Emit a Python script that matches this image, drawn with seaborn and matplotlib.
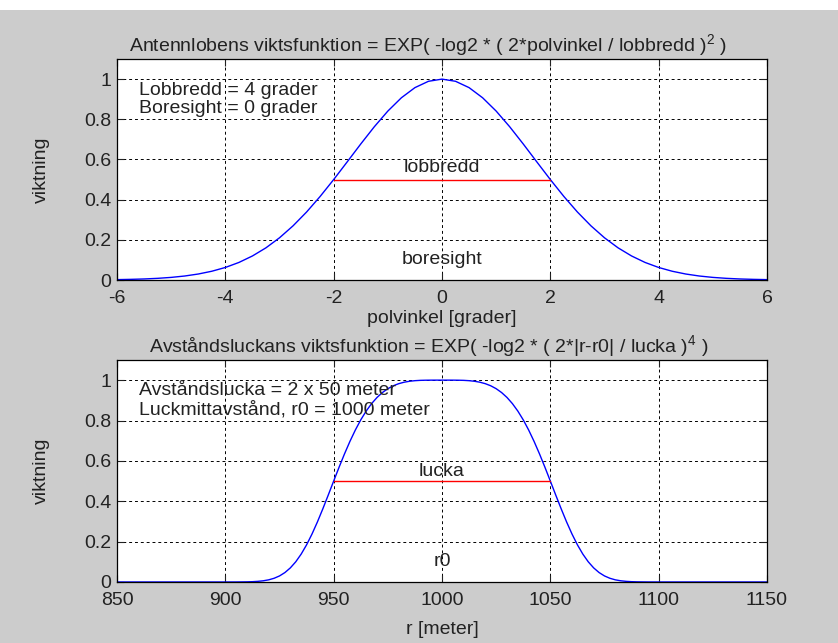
import numpy as np
import pandas as pd
import matplotlib
matplotlib.use("Agg")
import matplotlib.pyplot as plt
import seaborn as sns
from matplotlib.patches import Rectangle

# antenna lobe weight
polvinkel = [-6, -5.75, -5.5, -5.25, -5, -4.75, -4.5, -4.25, -4, -3.75, -3.5, -3.25,
             -3, -2.75, -2.5, -2.25, -2, -1.75, -1.5, -1.25, -1, -0.75, -0.5, -0.25,
             0, 0.25, 0.5, 0.75, 1, 1.25, 1.5, 1.75, 2, 2.25, 2.5, 2.75, 3, 3.25,
             3.5, 3.75, 4, 4.25, 4.5, 4.75, 5, 5.25, 5.5, 5.75, 6]
vikt_lob = [0.002, 0.0033, 0.0053, 0.0084, 0.0131, 0.020, 0.0299, 0.0437, 0.0625,
            0.0874, 0.1197, 0.1603, 0.2102, 0.2697, 0.3385, 0.4159, 0.5, 0.5882,
            0.6771, 0.7628, 0.8409, 0.9071, 0.9576, 0.9892, 1.0, 0.9892, 0.9576,
            0.9071, 0.8409, 0.7628, 0.6771, 0.5882, 0.5, 0.4159, 0.3385, 0.2697,
            0.2102, 0.1603, 0.1197, 0.0874, 0.0625, 0.0437, 0.0299, 0.020, 0.0131,
            0.0084, 0.0053, 0.0033, 0.002]

# range gate weight
r_meter = [850, 860, 870, 880, 890, 900, 905,
           910, 912.5, 915, 917.5, 920, 922.5, 925, 927.5, 930, 932.5,
           935, 937.5, 940, 942.5, 945, 947.5, 950, 952.5, 955, 957.5,
           960, 962.5, 965, 967.5, 970, 972.5, 975, 977.5, 980, 982.5,
           985, 987.5, 990, 992.5, 995, 997.5, 1000,
           1002.5, 1005, 1007.5, 1010, 1012.5, 1015, 1017.5, 1020, 1022.5, 1025,
           1027.5, 1030, 1032.5, 1035, 1037.5, 1040, 1042.5, 1045, 1047.5, 1050,
           1052.5, 1055, 1057.5, 1060, 1062.5, 1065, 1067.5, 1070, 1072.5, 1075,
           1077.5, 1080, 1082.5, 1085, 1087.5, 1090,
           1095, 1100, 1110, 1120, 1130, 1140, 1150]
vikt_lucka = [0, 0, 0, 0, 0, 0, 0.0001,
              0.0007, 0.0015, 0.0031, 0.0059, 0.0106, 0.0183, 0.0299, 0.0467, 0.0698, 0.1000,
              0.1381, 0.1841, 0.2376, 0.2975, 0.3625, 0.4306, 0.5, 0.5686, 0.6346, 0.6964,
              0.7528, 0.8031, 0.8467, 0.8836, 0.9141, 0.9385, 0.9576, 0.9720, 0.9824, 0.9897,
              0.9944, 0.9973, 0.9989, 0.9996, 0.9999, 1.0, 1.0,
              1.0, 0.9999, 0.9996, 0.9989, 0.9973, 0.9944, 0.9897, 0.9824, 0.9720, 0.9576,
              0.9385, 0.9141, 0.8836, 0.8467, 0.8031, 0.7528, 0.6964, 0.6346, 0.5686, 0.5,
              0.4306, 0.3625, 0.2975, 0.2376, 0.1841, 0.1381, 0.1000, 0.0698, 0.0467, 0.0299,
              0.0183, 0.0106, 0.0059, 0.0031, 0.0015, 0.0007,
              0.0001, 0, 0, 0, 0, 0, 0]

lobbredd_x = [-2, 2]
lucka_x = [950, 1050]
halv = [0.5, 0.5]

ytick_vals = [0, 0.2, 0.4, 0.6, 0.8, 1]
ytick_txt = ['0', '0.2', '0.4', '0.6', '0.8', '1']
xtick_top = [-6, -4, -2, 0, 2, 4, 6]
xtick_bot = [850, 900, 950, 1000, 1050, 1100, 1150]

sns.set_style("ticks")
plt.rcParams['font.family'] = ['Liberation Sans', 'DejaVu Sans']
plt.rcParams['mathtext.fontset'] = 'custom'
plt.rcParams['mathtext.rm'] = 'Liberation Sans'
fs = 14
plt.rcParams['font.size'] = fs
txtc = '#222222'

grey = '#cccccc'
fig = plt.figure(figsize=(8.38, 6.43), dpi=100, facecolor=grey)
fig.patches.append(Rectangle((0, 1 - 10 / 643), 1, 10 / 643, transform=fig.transFigure,
                             facecolor='white', edgecolor='none', zorder=-1))

ax1 = fig.add_axes([117 / 838, 0.5645, 650 / 838, 0.3437])
ax2 = fig.add_axes([117 / 838, 0.0949, 650 / 838, 0.3453])


def style(ax, xticks):
    ax.set_facecolor('white')
    ax.set_ylim(0, 1.1)
    ax.set_xlim(xticks[0], xticks[-1])
    ax.set_xticks(xticks)
    ax.set_xticklabels([str(t) for t in xticks])
    ax.set_yticks(ytick_vals)
    ax.set_yticklabels(ytick_txt)
    ax.grid(True, color='black', linestyle=(0, (3, 3)), linewidth=0.7)
    ax.set_axisbelow(True)
    ax.tick_params(direction='in', top=True, right=True, length=5, width=0.8,
                   labelsize=fs, colors=txtc, pad=4)
    ax.tick_params(axis='x', pad=7)
    for s in ax.spines.values():
        s.set_visible(True)
        s.set_color('black')
        s.set_linewidth(0.9)
    ax.set_ylabel('viktning', fontsize=fs, labelpad=25, color=txtc)


sns.lineplot(x=polvinkel, y=vikt_lob, ax=ax1, color='blue', linewidth=1.0)
sns.lineplot(x=lobbredd_x, y=halv, ax=ax1, color='red', linewidth=1.0)
style(ax1, xtick_top)
ax1.set_xlabel('polvinkel [grader]', fontsize=fs, labelpad=2, color=txtc)
ax1.set_title('Antennlobens viktsfunktion = EXP( -log2 * ( 2*polvinkel / lobbredd )$^{2}$ )',
              fontsize=fs, pad=5, color=txtc, x=0.479)
ax1.text(-5.6, 0.9, 'Lobbredd = 4 grader\nBoresight = 0 grader', ha='left', va='center',
         fontsize=fs, linespacing=1.1, color=txtc)
ax1.text(0, 0.56, 'lobbredd', ha='center', va='center', fontsize=fs, color=txtc)
ax1.text(0, 0.1, 'boresight', ha='center', va='center', fontsize=fs, color=txtc)

sns.lineplot(x=r_meter, y=vikt_lucka, ax=ax2, color='blue', linewidth=1.0)
sns.lineplot(x=lucka_x, y=halv, ax=ax2, color='red', linewidth=1.0)
style(ax2, xtick_bot)
ax2.set_xlabel('r [meter]', fontsize=fs, labelpad=9, color=txtc)
ax2.set_title('Avståndsluckans viktsfunktion = EXP( -log2 * ( 2*|r-r0| / lucka )$^{4}$ )',
              fontsize=fs, pad=5, color=txtc, x=0.479)
ax2.text(860, 0.9, 'Avståndslucka = 2 x 50 meter\nLuckmittavstånd, r0 = 1000 meter',
         ha='left', va='center', fontsize=fs, linespacing=1.1, color=txtc)
ax2.text(1000, 0.545, 'lucka', ha='center', va='center', fontsize=fs, color=txtc)
ax2.text(1000, 0.1, 'r0', ha='center', va='center', fontsize=fs, color=txtc)

fig.savefig('out.png', dpi=100, facecolor=grey)
